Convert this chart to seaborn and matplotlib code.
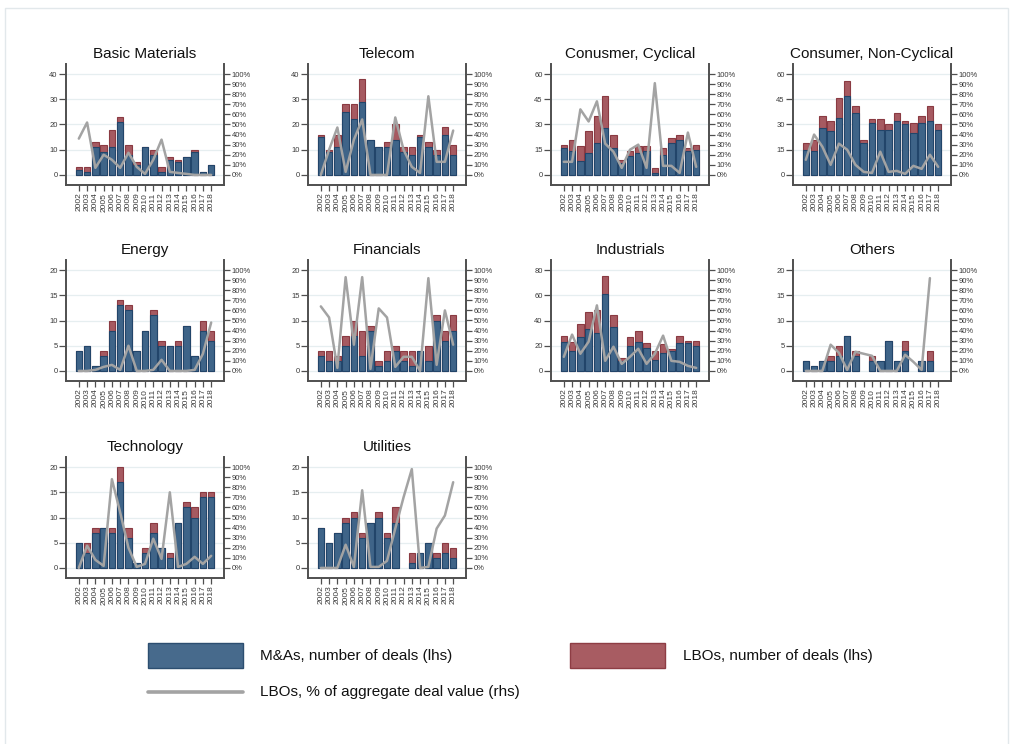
import numpy as np
import pandas as pd
import matplotlib
matplotlib.use("Agg")
import matplotlib.pyplot as plt
from matplotlib.patches import Rectangle
from matplotlib.lines import Line2D
from matplotlib.ticker import FuncFormatter
import seaborn as sns

sns.set_style("white")
plt.rcParams["font.family"] = ["Liberation Sans", "DejaVu Sans"]

years = list(range(2002, 2019))

# M&As, number of deals (lhs)
ma_basic = [2, 1, 11, 9, 11, 21, 8, 4, 11, 8, 1, 6, 5, 7, 9, 1, 4]
ma_telecom = [15, 9, 11, 25, 22, 29, 14, 11, 11, 14, 9, 8, 15, 11, 8, 16, 8]
ma_cyclical = [16, 14, 8, 13, 19, 28, 16, 7, 11, 13, 14, 1, 12, 19, 21, 14, 15]
ma_noncyclical = [15, 14, 28, 26, 34, 47, 37, 19, 31, 27, 27, 32, 30, 25, 31, 32, 27]
ma_energy = [4, 5, 1, 3, 8, 13, 12, 4, 8, 11, 5, 5, 5, 9, 3, 8, 6]
ma_financials = [3, 2, 2, 5, 7, 3, 8, 1, 2, 4, 2, 1, 4, 2, 10, 6, 8]
ma_industrials = [23, 16, 27, 33, 30, 61, 35, 8, 20, 23, 18, 9, 14, 16, 22, 22, 20]
ma_others = [2, 1, 2, 2, 3, 7, 3, 0, 2, 2, 6, 2, 4, 0, 2, 2, 0]
ma_technology = [5, 3, 7, 8, 7, 17, 6, 1, 3, 7, 4, 2, 9, 12, 10, 14, 14]
ma_utilities = [8, 5, 7, 9, 10, 6, 9, 10, 6, 9, 0, 1, 3, 5, 2, 3, 2]

# LBOs, number of deals (lhs)
lbo_basic = [1, 2, 2, 3, 7, 2, 4, 1, 0, 2, 2, 1, 1, 0, 1, 0, 0]
lbo_telecom = [1, 1, 5, 3, 6, 9, 0, 0, 2, 6, 2, 3, 1, 2, 2, 3, 4]
lbo_cyclical = [2, 7, 9, 13, 16, 19, 8, 2, 3, 4, 3, 3, 4, 3, 3, 2, 3]
lbo_noncyclical = [4, 7, 7, 6, 12, 9, 4, 2, 2, 6, 3, 5, 2, 6, 4, 9, 3]
lbo_energy = [0, 0, 0, 1, 2, 1, 1, 0, 0, 1, 1, 0, 1, 0, 0, 2, 2]
lbo_financials = [1, 2, 1, 2, 3, 5, 1, 1, 2, 1, 2, 3, 0, 3, 1, 2, 3]
lbo_industrials = [5, 7, 10, 14, 18, 14, 9, 2, 7, 9, 4, 7, 7, 1, 6, 2, 4]
lbo_others = [0, 0, 0, 1, 2, 0, 1, 0, 1, 0, 0, 0, 2, 0, 0, 2, 0]
lbo_technology = [0, 2, 1, 0, 1, 3, 2, 0, 1, 2, 0, 1, 0, 1, 2, 1, 1]
lbo_utilities = [0, 0, 0, 1, 1, 1, 0, 1, 1, 3, 0, 2, 0, 0, 1, 2, 2]

# LBOs, % of aggregate deal value (rhs)
pct_basic = [36, 52, 7, 20, 15, 7, 22, 8, 1, 15, 35, 3, 2, 1, 0, 0, 0]
pct_telecom = [0, 25, 47, 3, 35, 55, 0, 0, 0, 57, 25, 8, 2, 78, 13, 13, 44]
pct_cyclical = [13, 13, 65, 53, 73, 31, 23, 7, 25, 30, 7, 91, 9, 9, 2, 42, 8]
pct_noncyclical = [15, 40, 28, 10, 31, 25, 10, 3, 2, 23, 3, 4, 1, 9, 6, 20, 8]
pct_energy = [0, 0, 1, 4, 6, 1, 25, 0, 0, 1, 11, 0, 0, 0, 1, 17, 48]
pct_financials = [64, 53, 3, 93, 26, 93, 2, 62, 53, 4, 14, 14, 0, 92, 6, 60, 26]
pct_industrials = [14, 36, 17, 29, 65, 10, 24, 7, 14, 22, 7, 17, 35, 10, 9, 5, 3]
pct_others = [0, 0, 0, 26, 18, 1, 19, 17, 15, 0, 0, 0, 16, 9, 1, 92, np.nan]
pct_technology = [0, 22, 8, 2, 88, 55, 20, 1, 4, 29, 9, 75, 1, 4, 11, 4, 12]
pct_utilities = [0, 0, 0, 23, 1, 77, 1, 1, 7, 39, 70, 98, 0, 1, 39, 52, 85]

sectors = ["Basic Materials", "Telecom", "Conusmer, Cyclical", "Consumer, Non-Cyclical",
           "Energy", "Financials", "Industrials", "Others", "Technology", "Utilities"]
ma_series = [ma_basic, ma_telecom, ma_cyclical, ma_noncyclical, ma_energy,
             ma_financials, ma_industrials, ma_others, ma_technology, ma_utilities]
lbo_series = [lbo_basic, lbo_telecom, lbo_cyclical, lbo_noncyclical, lbo_energy,
              lbo_financials, lbo_industrials, lbo_others, lbo_technology, lbo_utilities]
pct_series = [pct_basic, pct_telecom, pct_cyclical, pct_noncyclical, pct_energy,
              pct_financials, pct_industrials, pct_others, pct_technology, pct_utilities]
y_max = [40, 40, 60, 60, 20, 20, 80, 20, 20, 20]
y_step = [10, 10, 15, 15, 5, 5, 20, 5, 5, 5]

BLUE, BLUE_EDGE = "#3f6488", "#22456a"
RED, RED_EDGE = "#a65a61", "#8a3a42"
GRAY = "#a3a3a3"
GRID = "#e6eef0"
SPINE = "#4f4f4f"
TICKTXT = "#3a3a3a"

W, H = 1013, 744
fig = plt.figure(figsize=(W / 100, H / 100), dpi=100)

# light outer frame
fig.add_artist(Rectangle((5 / W, -0.02), 1003 / W, 1 - 8 / H + 0.02,
                         transform=fig.transFigure, fill=False,
                         edgecolor="#e2e8eb", lw=1.0))

col_left = [66, 308, 551, 793]
row_top = [64, 260, 457]
ax_w, ax_h = 158, 121

for i, name in enumerate(sectors):
    r, c = divmod(i, 4)
    ax = fig.add_axes([col_left[c] / W, 1 - (row_top[r] + ax_h) / H, ax_w / W, ax_h / H])
    ma = np.array(ma_series[i])
    lbo = np.array(lbo_series[i])
    df = pd.DataFrame({"year": [str(y) for y in years], "ma": ma, "total": ma + lbo})

    # stacked bars: total (LBO on top) first, then M&As over it
    sns.barplot(data=df, x="year", y="total", color=RED, saturation=1, width=0.8,
                edgecolor=RED_EDGE, linewidth=0.8, errorbar=None, ax=ax)
    sns.barplot(data=df, x="year", y="ma", color=BLUE, saturation=1, width=0.8,
                edgecolor=BLUE_EDGE, linewidth=0.8, errorbar=None, ax=ax)
    for p in ax.patches:
        if p.get_height() == 0:
            p.set_visible(False)

    ym, ys = y_max[i], y_step[i]
    ax.set_ylim(-0.1 * ym, 1.1 * ym)
    ax.set_yticks(np.arange(0, ym + 1, ys))
    ax.yaxis.grid(True, color=GRID, lw=0.9)
    ax.xaxis.grid(False)
    ax.set_axisbelow(True)
    ax.set_xlabel("")
    ax.set_ylabel("")
    ax.set_title(name, fontsize=11, pad=4.5, color="#111111")

    ax2 = ax.twinx()
    ldf = pd.DataFrame({"pos": np.arange(len(years)), "pct": pct_series[i]})
    sns.lineplot(data=ldf, x="pos", y="pct", color=GRAY, lw=1.8, ax=ax2)
    ax2.set_ylim(-10, 110)
    ax2.set_yticks(np.arange(0, 101, 10))
    ax2.yaxis.set_major_formatter(FuncFormatter(lambda v, _: f"{int(v)}%"))
    ax2.set_ylabel("")
    ax2.set_xlabel("")
    ax.set_xlim(-1.55, len(years) - 1 + 1.55)

    for a in (ax, ax2):
        a.spines["top"].set_visible(False)
    ax.spines["right"].set_visible(False)
    ax2.spines["left"].set_visible(False)
    ax2.spines["bottom"].set_visible(False)
    for s in ("left", "bottom"):
        ax.spines[s].set_color(SPINE)
        ax.spines[s].set_linewidth(1.4)
    ax2.spines["right"].set_color(SPINE)
    ax2.spines["right"].set_linewidth(1.4)

    ax.tick_params(axis="y", length=5, width=0.9, color=SPINE, labelsize=5.5,
                   labelcolor=TICKTXT, pad=1, left=True)
    ax.tick_params(axis="x", length=4, width=0.9, color=SPINE, labelsize=6,
                   labelcolor=TICKTXT, pad=1.5, bottom=True, labelrotation=90)
    ax2.tick_params(axis="y", length=4, width=0.9, color=SPINE, labelsize=5.5,
                    labelcolor=TICKTXT, pad=1.5, right=True)

# legend
def fx(px):
    return px / W

def fy(py):
    return 1 - py / H

fig.add_artist(Rectangle((fx(148), fy(668)), 95 / W, 25 / H, transform=fig.transFigure,
                         facecolor="#476a8c", edgecolor="#2c4e70", lw=1.0))
fig.add_artist(Rectangle((fx(570), fy(668)), 95 / W, 25 / H, transform=fig.transFigure,
                         facecolor="#a85c62", edgecolor="#8e3d44", lw=1.0))
fig.add_artist(Line2D([fx(148), fx(243)], [fy(692), fy(692)], transform=fig.transFigure,
                      color=GRAY, lw=2.6))
fig.text(fx(260), fy(656), "M&As, number of deals (lhs)", fontsize=11, va="center", color="#111111")
fig.text(fx(683), fy(656), "LBOs, number of deals (lhs)", fontsize=11, va="center", color="#111111")
fig.text(fx(260), fy(692), "LBOs, % of aggregate deal value (rhs)", fontsize=11, va="center", color="#111111")

fig.savefig("out.png", dpi=100, facecolor="white")
